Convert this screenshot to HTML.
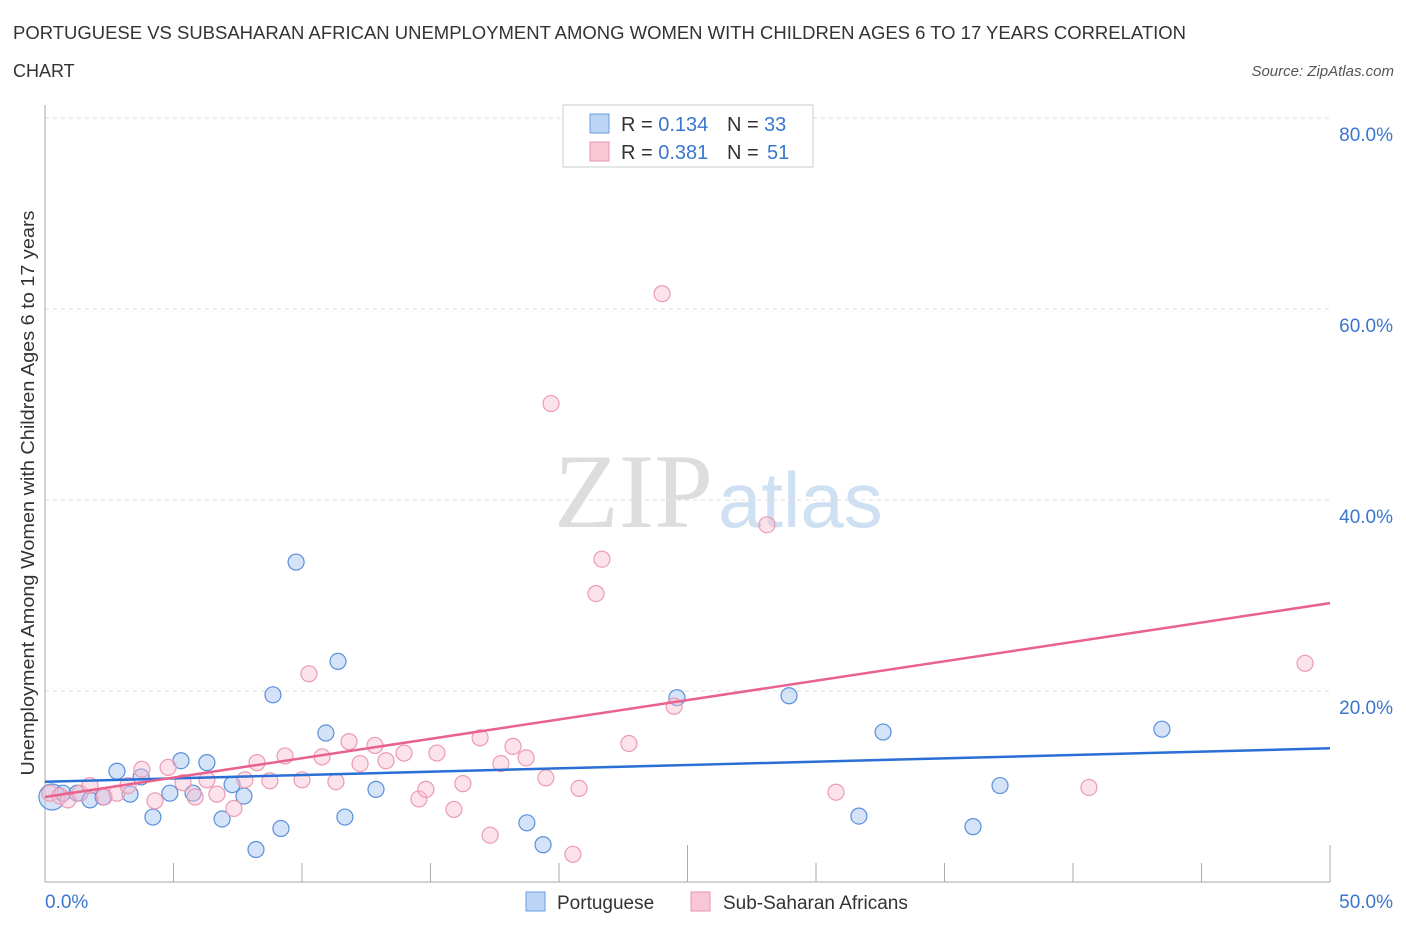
<!DOCTYPE html>
<html><head><meta charset="utf-8"><style>
body{margin:0;background:#fff;font-family:"Liberation Sans",sans-serif;}
</style></head><body>
<svg width="1406" height="930" xmlns="http://www.w3.org/2000/svg" id="svg">
<text x="13" y="39" font-size="18" fill="#333" textLength="1173" lengthAdjust="spacingAndGlyphs">PORTUGUESE VS SUBSAHARAN AFRICAN UNEMPLOYMENT AMONG WOMEN WITH CHILDREN AGES 6 TO 17 YEARS CORRELATION</text>
<text x="13" y="77" font-size="18" fill="#333">CHART</text>
<text x="1394" y="76" font-size="15" fill="#555" font-style="italic" text-anchor="end">Source: ZipAtlas.com</text>
<text x="554" y="527" font-size="106" fill="#ddd" font-family="Liberation Serif">ZIP</text>
<text x="718" y="527" font-size="78" fill="#cfe0f3">atlas</text>
<text transform="translate(34,493) rotate(-90)" font-size="18" fill="#333" text-anchor="middle" textLength="565" lengthAdjust="spacingAndGlyphs">Unemployment Among Women with Children Ages 6 to 17 years</text>
<g id="grid"></g><g id="marks"></g>
<g>
<rect x="563" y="105" width="250" height="62" fill="#fff" stroke="#ccc"/>
<rect x="590" y="114" width="19" height="19" fill="#bcd5f5" stroke="#6a9be0"/>
<text x="621" y="131" font-size="20" fill="#333">R = <tspan fill="#3a76d0">0.134</tspan><tspan x="727">N = </tspan><tspan fill="#3a76d0" x="764">33</tspan></text>
<rect x="590" y="142" width="19" height="19" fill="#f8c6d5" stroke="#e893ae"/>
<text x="621" y="159" font-size="20" fill="#333">R = <tspan fill="#3a76d0">0.381</tspan><tspan x="727">N = </tspan><tspan fill="#3a76d0" x="767">51</tspan></text>
</g>
<g>
<rect x="526" y="892" width="19" height="19" fill="#bcd5f5" stroke="#6a9be0"/>
<text x="557" y="909" font-size="19" fill="#333">Portuguese</text>
<rect x="691" y="892" width="19" height="19" fill="#f8c6d5" stroke="#e893ae"/>
<text x="723" y="909" font-size="19" fill="#333">Sub-Saharan Africans</text>
</g>
</svg>
<script>
const yTicks=[20,40,60,80];
const yTickLabels=["20.0%","40.0%","60.0%","80.0%"];
const xTicks=[5,10,15,20,25,30,35,40,45,50];
const bx=[0.27,0.7,1.25,1.75,2.26,2.8,3.31,3.74,4.2,4.86,5.29,5.76,6.3,6.89,7.28,7.74,8.21,8.87,9.18,9.77,10.93,11.4,11.67,12.88,18.75,19.38,24.59,28.95,31.67,32.61,36.11,37.16,43.46];
const by=[8.9,9.3,9.3,8.6,8.9,11.6,9.2,11,6.8,9.3,12.7,9.3,12.5,6.6,10.2,9,3.4,19.6,5.6,33.5,15.6,23.1,6.8,9.7,6.2,3.9,19.3,19.5,6.9,15.7,5.8,10.1,16];
const px=[0.19,0.58,0.89,1.36,1.75,2.3,2.8,3.23,3.77,4.28,4.79,5.37,5.84,6.3,6.69,7.35,7.78,8.25,8.75,9.34,10.0,10.27,10.78,11.32,11.83,12.26,12.84,13.27,13.97,14.55,14.82,15.25,15.91,16.26,16.93,17.32,17.74,18.21,18.72,19.49,19.69,20.54,20.78,21.44,21.67,22.72,24.01,24.48,28.09,30.78,40.62,49.03];
const py=[9.3,9,8.6,9.3,10.1,8.9,9.3,10.1,11.8,8.5,12,10.4,8.9,10.7,9.2,7.7,10.7,12.5,10.6,13.2,10.7,21.8,13.1,10.5,14.7,12.4,14.3,12.7,13.5,8.7,9.7,13.5,7.6,10.3,15.1,4.9,12.4,14.2,13,10.9,50.1,2.9,9.8,30.2,33.8,14.5,61.6,18.4,37.4,9.4,9.9,22.9];
const blueLine=[0,10.5,50,14];
const pinkLine=[0,8.9,50,29.2];
const X=v=>45+v*25.7, Y=v=>882-v*9.55;
const NS="http://www.w3.org/2000/svg";
const grid=document.getElementById('grid'), marks=document.getElementById('marks');
function mk(p,tag,a){const e=document.createElementNS(NS,tag);for(const k in a)e.setAttribute(k,a[k]);p.appendChild(e);return e;}
yTicks.forEach((t,i)=>{
 const l=mk(grid,'line',{x1:45,x2:1330,y1:Y(t),y2:Y(t),stroke:'#ddd','stroke-dasharray':'4,4'});
 
 
 const tx=mk(grid,'text',{x:1393,y:Y(t)+23,'font-size':19,fill:'#3a76d0','text-anchor':'end'});tx.textContent=yTickLabels[i];
 
 
});
mk(grid,'line',{x1:45,x2:45,y1:105,y2:882,stroke:'#aaa'});
mk(grid,'line',{x1:45,x2:1330,y1:882,y2:882,stroke:'#aaa'});
xTicks.forEach(t=>{const l=mk(grid,'line',{x1:X(t),x2:X(t),y1:882,y2:t%25==0?845:863,stroke:'#aaa'});
 
 });
const xl0=mk(grid,'text',{x:45,y:908,'font-size':19,fill:'#3a76d0'});xl0.textContent='0.0%';


const xl1=mk(grid,'text',{x:1393,y:908,'font-size':19,fill:'#3a76d0','text-anchor':'end'});xl1.textContent='50.0%';


bx.forEach((v,i)=>{const c=mk(marks,'circle',{cx:X(v),cy:Y(by[i]),r:i==0?13:8,fill:'rgba(170,200,240,0.5)',stroke:'#5a8fdc','stroke-width':1.2});
 
 });
px.forEach((v,i)=>{const c=mk(marks,'circle',{cx:X(v),cy:Y(py[i]),r:8,fill:'rgba(248,190,208,0.45)',stroke:'#ec9ab4','stroke-width':1.2});
 
 });
const bl=mk(marks,'line',{x1:X(blueLine[0]),y1:Y(blueLine[1]),x2:X(blueLine[2]),y2:Y(blueLine[3]),stroke:'#2a6fd6','stroke-width':2.5});


const pl=mk(marks,'line',{x1:X(pinkLine[0]),y1:Y(pinkLine[1]),x2:X(pinkLine[2]),y2:Y(pinkLine[3]),stroke:'#e8628c','stroke-width':2.5});


</script>
</body></html>
